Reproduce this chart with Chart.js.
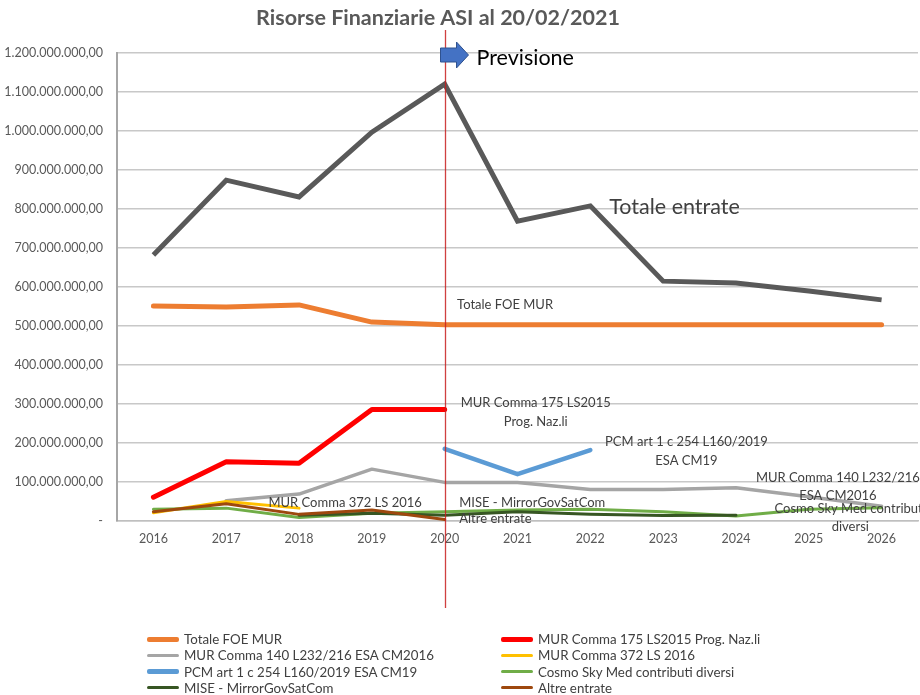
<!DOCTYPE html>
<html>
<head>
<meta charset="utf-8">
<script src="https://cdn.jsdelivr.net/npm/chart.js@4.4.1/dist/chart.umd.min.js"></script>
<style>
  html, body { margin: 0; padding: 0; background: #fff; }
  #wrap { position: relative; width: 920px; height: 695px; overflow: hidden; }
  canvas { display: block; }
  .lg { position: absolute; font-family: Lato, sans-serif; font-size: 13.3px; color: #404040; white-space: nowrap; display: flex; align-items: center; height: 16px; }
  .lg span.sw { display: inline-block; width: 32px; border-radius: 2px; margin-right: 5px; }
</style>
</head>
<body>
<div id="wrap">
  <canvas id="c" width="920" height="695"></canvas>
</div>
<script>
const categories = ['2016','2017','2018','2019','2020','2021','2022','2023','2024','2025','2026'];
const totaleEntrate = [682e6, 874e6, 831e6, 997e6, 1120e6, 769e6, 808e6, 615e6, 610e6, 590e6, 567e6];
const totaleFoeMur  = [551e6, 549e6, 554e6, 510e6, 503e6, 503e6, 503e6, 503e6, 503e6, 503e6, 503e6];
const murComma175   = [61e6, 152e6, 148e6, 286e6, 286e6, null, null, null, null, null, null];
const murComma140   = [null, 52e6, 69e6, 133e6, 99e6, 99e6, 81e6, 81e6, 85e6, 62e6, 38e6];
const murComma372   = [21e6, 50e6, 33e6, null, null, null, null, null, null, null, null];
const pcmArt1       = [null, null, null, null, 185e6, 120e6, 182e6, null, null, null, null];
const cosmoSkyMed   = [30e6, 33e6, 9e6, 20e6, 24e6, 28e6, 30e6, 24e6, 13e6, 30e6, 34e6];
const miseMirror    = [null, null, 15e6, 20e6, 15e6, 24e6, 17e6, 14e6, 15e6, null, null];
const altreEntrate  = [24e6, 44e6, 17e6, 28e6, 4e6, null, null, null, null, null, null];
const yTicks = [0, 1e8, 2e8, 3e8, 4e8, 5e8, 6e8, 7e8, 8e8, 9e8, 10e8, 11e8, 12e8];

const FONT = 'Lato, sans-serif';
const titleText = 'Risorse Finanziarie ASI al 20/02/2021';

function fmtIt(v) {
  if (v === 0) return '-';
  const s = Math.round(v).toString();
  return s.replace(/\B(?=(\d{3})+(?!\d))/g, '.') + ',00';
}

const series = [
  { label: 'Totale FOE MUR', data: totaleFoeMur, color: '#ED7D31', w: 5 },
  { label: 'MUR Comma 175 LS2015 Prog. Naz.li', data: murComma175, color: '#FF0000', w: 5 },
  { label: 'MUR Comma 140 L232/216 ESA CM2016', data: murComma140, color: '#A5A5A5', w: 3.5 },
  { label: 'MUR Comma 372 LS 2016', data: murComma372, color: '#FFC000', w: 3 },
  { label: 'PCM art 1 c 254 L160/2019 ESA CM19', data: pcmArt1, color: '#5B9BD5', w: 4.5 },
  { label: 'Cosmo Sky Med contributi diversi', data: cosmoSkyMed, color: '#70AD47', w: 3 },
  { label: 'MISE - MirrorGovSatCom', data: miseMirror, color: '#375623', w: 3 },
  { label: 'Altre entrate', data: altreEntrate, color: '#9E480E', w: 3 }
];

const datasets = [{
  label: 'Totale entrate', data: totaleEntrate, borderColor: '#595959', backgroundColor: '#595959',
  borderWidth: 5, pointRadius: 0, tension: 0, spanGaps: false, order: 20
}].concat(series.map((s, i) => ({
  label: s.label, data: s.data, borderColor: s.color, backgroundColor: s.color,
  borderWidth: s.w, pointRadius: 0, tension: 0, spanGaps: false, order: series.length - i,
  borderCapStyle: 'round', borderJoinStyle: 'round'
})));

// Labels drawn next to the series (category index, value)
const textLabels = [
  { lines: ['Totale entrate'], x: 6.26, y: 805e6, align: 'left', size: 21.5, color: '#404040' },
  { lines: ['Totale FOE MUR'], x: 4.17, y: 554e6, align: 'left', size: 13, color: '#404040' },
  { lines: ['MUR Comma 175 LS2015', 'Prog. Naz.li'], x: 5.25, y: 302e6, align: 'center', size: 13, color: '#404040' },
  { lines: ['PCM art 1 c 254 L160/2019', 'ESA CM19'], x: 7.32, y: 202e6, align: 'center', size: 13, color: '#404040' },
  { lines: ['MUR Comma 140 L232/216', 'ESA CM2016'], x: 9.4, y: 111e6, align: 'center', size: 13, color: '#404040' },
  { lines: ['Cosmo Sky Med contributi', 'diversi'], x: 9.57, y: 31e6, align: 'center', size: 13, color: '#404040' },
  { lines: ['MUR Comma 372 LS 2016'], x: 1.58, y: 46e6, align: 'left', size: 13, color: '#404040' },
  { lines: ['MISE - MirrorGovSatCom'], x: 4.2, y: 46e6, align: 'left', size: 13, color: '#404040' },
  { lines: ['Altre entrate'], x: 4.2, y: 5e6, align: 'left', size: 13, color: '#404040' }
];
const forecastIndex = 4; // 2020
const forecastText = 'Previsione';

const overlay = {
  id: 'overlay',
  afterDatasetsDraw(chart) {
    const ctx = chart.ctx, xs = chart.scales.x, ys = chart.scales.y;
    ctx.save();
    // title
    ctx.font = 'bold 21.5px ' + FONT;
    ctx.fillStyle = '#595959';
    ctx.textAlign = 'center';
    ctx.textBaseline = 'middle';
    ctx.fillText(titleText, 438, 18);
    // labels
    textLabels.forEach(l => {
      ctx.font = l.size + 'px ' + FONT;
      ctx.fillStyle = l.color;
      ctx.textAlign = l.align;
      ctx.textBaseline = 'middle';
      const px = xs.getPixelForValue(l.x);
      const py = ys.getPixelForValue(l.y);
      const lh = l.size * 1.4;
      l.lines.forEach((t, k) => ctx.fillText(t, px, py + k * lh));
    });
    // vertical forecast line
    const fx = Math.round(xs.getPixelForValue(forecastIndex)) + 0.5;
    ctx.strokeStyle = 'rgba(200,30,30,0.85)';
    ctx.lineWidth = 1.3;
    ctx.beginPath();
    ctx.moveTo(fx, chart.chartArea.top - 23);
    ctx.lineTo(fx, chart.chartArea.bottom + 87);
    ctx.stroke();
    // arrow
    const cy = chart.chartArea.top + 2;
    ctx.fillStyle = '#4472C4';
    ctx.strokeStyle = '#2F528F';
    ctx.lineWidth = 1;
    ctx.beginPath();
    ctx.moveTo(fx - 5, cy - 7);
    ctx.lineTo(fx + 11, cy - 7);
    ctx.lineTo(fx + 11, cy - 13);
    ctx.lineTo(fx + 23, cy);
    ctx.lineTo(fx + 11, cy + 13);
    ctx.lineTo(fx + 11, cy + 7);
    ctx.lineTo(fx - 5, cy + 7);
    ctx.closePath();
    ctx.fill();
    ctx.stroke();
    ctx.font = '21.5px ' + FONT;
    ctx.fillStyle = '#000';
    ctx.textAlign = 'left';
    ctx.textBaseline = 'middle';
    ctx.fillText(forecastText, fx + 31, cy + 3);
    ctx.restore();
  }
};

const chart = new Chart(document.getElementById('c'), {
  type: 'line',
  data: { labels: categories, datasets },
  options: {
    responsive: false,
    animation: false,
    layout: { padding: { left: 0, right: 2, top: 53, bottom: 144 } },
    plugins: {
      legend: { display: false },
      tooltip: { enabled: false },
      title: { display: false }
    },
    scales: {
      x: {
        offset: true,
        grid: { display: false, drawTicks: false },
        border: { display: true, color: '#BFBFBF', width: 1.5 },
        ticks: { color: '#595959', font: { family: FONT, size: 12.5 }, padding: 10, maxRotation: 0 },
        afterFit(s) { s.height = 30; }
      },
      y: {
        min: 0, max: 1.2e9,
        afterBuildTicks(s) { s.ticks = yTicks.map(v => ({ value: v })); },
        grid: { color: '#C8C8C8', lineWidth: 1.5, drawTicks: false },
        border: { display: true, color: '#A6A6A6', width: 2 },
        ticks: { color: '#595959', font: { family: FONT, size: 12.5 }, padding: 14, callback: v => fmtIt(v) },
        afterFit(s) { s.width = 117; }
      }
    }
  },
  plugins: [overlay]
});

// HTML legend built from the series list (Totale entrate is not listed)
const wrap = document.getElementById('wrap');
series.forEach((s, i) => {
  const col = i % 2, row = Math.floor(i / 2);
  const d = document.createElement('div');
  d.className = 'lg';
  d.style.left = (col === 0 ? 147 : 501) + 'px';
  d.style.top = (631 + row * 16.3) + 'px';
  const sw = document.createElement('span');
  sw.className = 'sw';
  sw.style.height = (s.w >= 4 ? 5 : 3) + 'px';
  sw.style.background = s.color;
  d.appendChild(sw);
  d.appendChild(document.createTextNode(s.label));
  wrap.appendChild(d);
});
</script>
</body>
</html>
